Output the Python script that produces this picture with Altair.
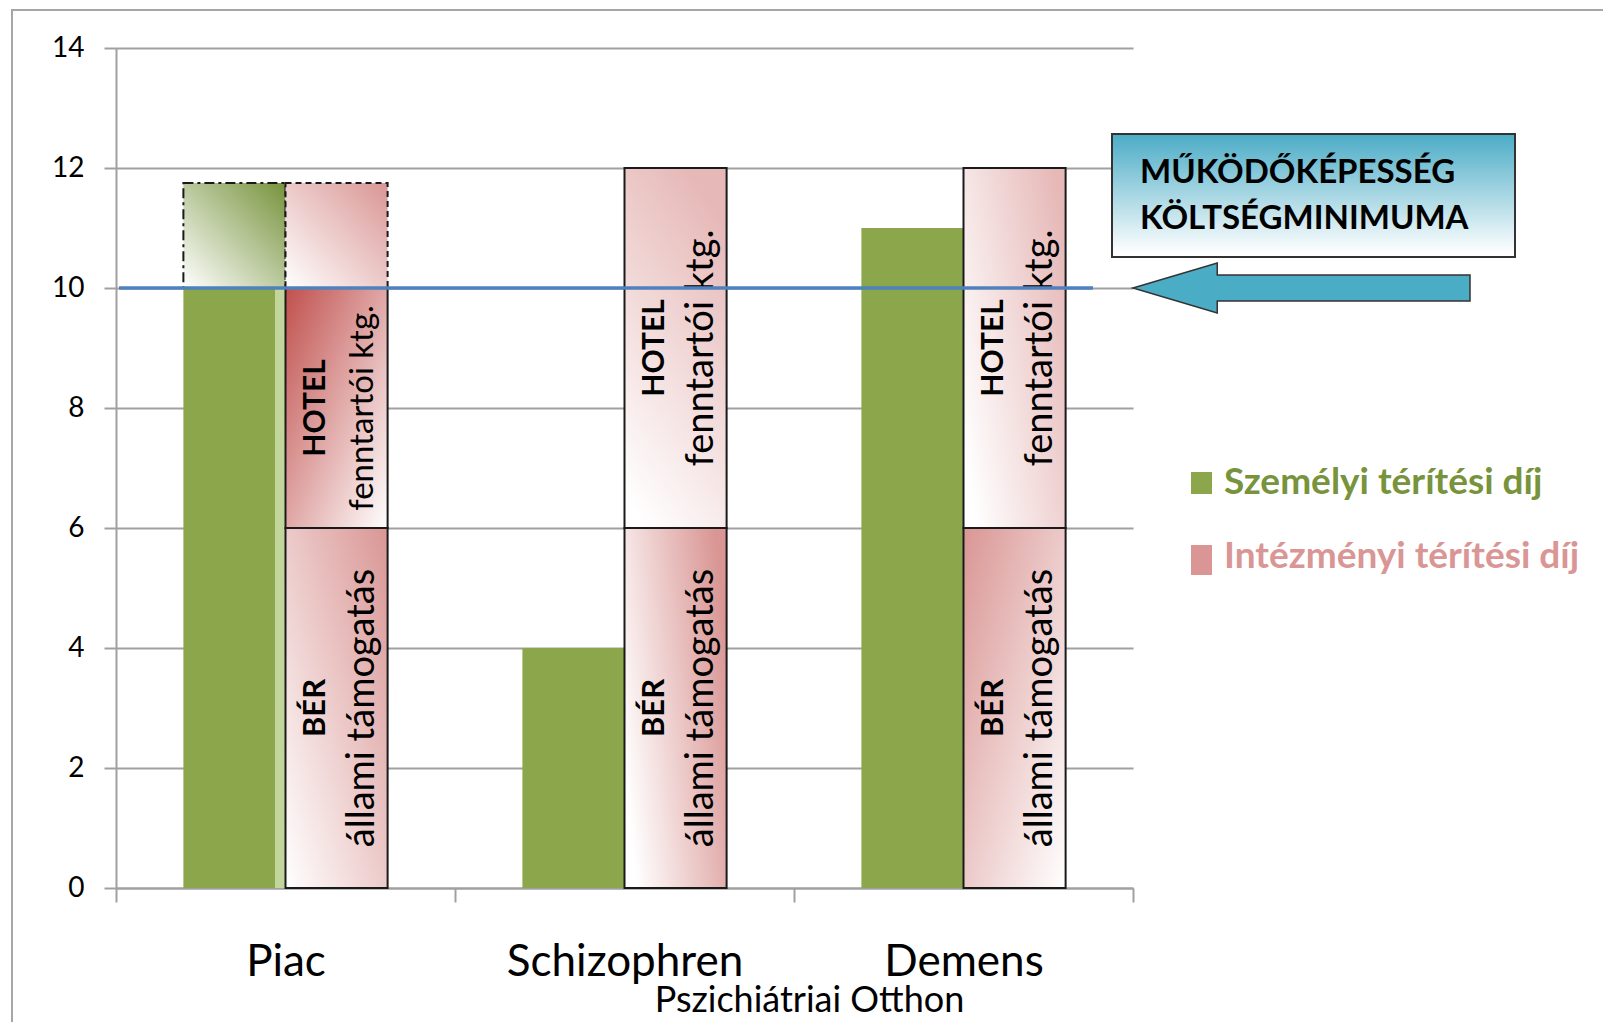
import altair as alt
import pandas as pd

# ---------------- data ----------------
categories = ["Piac", "Schizophren", "Demens"]
series = ["Személyi térítési díj", "Intézményi térítési díj"]

szemelyi = [10, 4, 11]          # green bars
ber = [6, 6, 6]                 # BÉR – állami támogatás (lower pink part)
hotel = [4, 6, 6]               # HOTEL – fenntartói ktg. (upper pink part)
piac_extension_top = 11.75      # dashed extension of the Piac bars

ber_bold, ber_text = "BÉR", "állami támogatás"
hotel_bold, hotel_text = "HOTEL", "fenntartói ktg."

threshold = 10
box_lines = ["MŰKÖDŐKÉPESSÉG", "KÖLTSÉGMINIMUMA"]
axis_title = "Pszichiátriai Otthon"
y_ticks = [0, 2, 4, 6, 8, 10, 12, 14]

# ---------------- table ----------------
rows = []
for i, c in enumerate(categories):
    rows.append(dict(id=f"g{i}", cat=c, ser=series[0], start=0, end=szemelyi[i], bold="", text=""))
    rows.append(dict(id=f"b{i}", cat=c, ser=series[1], start=0, end=ber[i], bold=ber_bold, text=ber_text))
    rows.append(dict(id=f"h{i}", cat=c, ser=series[1], start=ber[i], end=ber[i] + hotel[i],
                     bold=hotel_bold, text=hotel_text))
rows.append(dict(id="gx", cat=categories[0], ser=series[0], start=szemelyi[0], end=piac_extension_top, bold="", text=""))
rows.append(dict(id="px", cat=categories[0], ser=series[1], start=ber[0] + hotel[0], end=piac_extension_top, bold="", text=""))
df = pd.DataFrame(rows)

# ---------------- styles ----------------
GREEN = "#8BA64B"
LIGHT_GREEN = "#C2D69B"
DARK_GREEN = "#77933C"
PINK = "#D99694"
LIGHT_PINK = "#E6B9B8"
RED = "#C0504D"
FONT = "Lato"
GRID = "#A0A0A0"


def grad(c0, c1, x1, y1, x2, y2):
    return {"gradient": "linear", "x1": x1, "y1": y1, "x2": x2, "y2": y2,
            "stops": [{"offset": 0, "color": c0}, {"offset": 1, "color": c1}]}


styles = {
    "g0": dict(fill={"gradient": "linear", "x1": 0, "y1": 0, "x2": 1, "y2": 0,
                     "stops": [{"offset": 0, "color": GREEN}, {"offset": 0.895, "color": GREEN},
                               {"offset": 0.895, "color": LIGHT_GREEN}, {"offset": 1, "color": LIGHT_GREEN}]},
               strokeWidth=0),
    "g1": dict(fill=GREEN, strokeWidth=0),
    "g2": dict(fill=GREEN, strokeWidth=0),
    "h0": dict(fill=grad(RED, "#FFFFFF", 0, 0, 1, 1), stroke="#1A1A1A", strokeWidth=2),
    "b0": dict(fill=grad("#FFFFFF", PINK, 0, 1, 1, 0), stroke="#1A1A1A", strokeWidth=2),
    "h1": dict(fill=grad(LIGHT_PINK, "#FFFFFF", 0.6, 0, 0.2, 1), stroke="#1A1A1A", strokeWidth=2),
    "b1": dict(fill=grad("#FFFFFF", PINK, 0, 0.7, 1, 0.3), stroke="#1A1A1A", strokeWidth=2),
    "h2": dict(fill=grad("#FFFFFF", LIGHT_PINK, 0, 0.8, 1, 0.2), stroke="#1A1A1A", strokeWidth=2),
    "b2": dict(fill=grad(PINK, "#FFFFFF", 0, 0, 1, 1), stroke="#1A1A1A", strokeWidth=2),
    "gx": dict(fill=grad("#FFFFFF", DARK_GREEN, 0, 1, 1, 0), stroke="#1A1A1A", strokeWidth=2,
               strokeDash=[10, 4, 3, 4]),
    "px": dict(fill=grad("#FFFFFF", PINK, 0, 1, 1, 0), stroke="#1A1A1A", strokeWidth=2,
               strokeDash=[6, 4]),
}
text_sizes = {"h0": (30, 33), "b0": (31, 38), "h1": (30, 38), "b1": (31, 38), "h2": (30, 38), "b2": (31, 38)}

W, H = 1017, 840

x_enc = alt.X("cat:N", scale=alt.Scale(domain=categories, paddingInner=0, paddingOuter=0),
              axis=alt.Axis(labelAngle=0, labelFont=FONT, labelFontSize=44, labelColor="#000000",
                            labelPadding=60, labelBaseline="middle", labelLimit=0, tickBand="extent",
                            tickSize=14, tickColor=GRID, tickWidth=2, domainColor=GRID, domainWidth=2,
                            grid=False, title=axis_title, titleFont=FONT, titleFontSize=36,
                            titleFontWeight="normal", titleColor="#000000", titleX=693, titleY=112,
                            titleAlign="center", titleBaseline="middle", titleAngle=0))
xo_enc = alt.XOffset("ser:N", scale=alt.Scale(domain=series, paddingInner=0, paddingOuter=0.66))
y_scale = alt.Scale(domain=[0, 14], nice=False, zero=True)
y_axis = alt.Axis(values=y_ticks, format="d", grid=True, gridColor=GRID, gridWidth=2, tickSize=12,
                  tickColor=GRID, tickWidth=2, domainColor=GRID, domainWidth=2, labelFont=FONT,
                  labelFontSize=28, labelColor="#000000", labelPadding=20)

base = alt.Chart(df)
layers = []

# outer frame
layers.append(alt.Chart(pd.DataFrame({"a": [0]})).mark_rect(fillOpacity=0, stroke="#A6A6A6", strokeWidth=2).encode(
    x=alt.value(-104), x2=alt.value(2000), y=alt.value(-38), y2=alt.value(2000)))

# bars
for seg_id, st in styles.items():
    layers.append(base.transform_filter(alt.datum.id == seg_id).mark_bar(**st).encode(
        x=x_enc, xOffset=xo_enc,
        y=alt.Y("start:Q", scale=y_scale, axis=y_axis, title=None),
        y2="end:Q"))

# rotated texts in pink bars
for seg_id, (bold_size, reg_size) in text_sizes.items():
    seg = base.transform_filter(alt.datum.id == seg_id).transform_calculate(mid="(datum.start + datum.end) / 2")
    layers.append(seg.mark_text(angle=270, align="center", baseline="middle", font=FONT, fontWeight="bold",
                                fontSize=bold_size, dy=-21, color="#000000").encode(
        x=x_enc, xOffset=xo_enc, y=alt.Y("mid:Q", scale=y_scale, title=None), text="bold:N"))
    layers.append(seg.mark_text(angle=270, align="center", baseline="middle", font=FONT,
                                fontSize=reg_size, dy=26, color="#000000").encode(
        x=x_enc, xOffset=xo_enc, y=alt.Y("mid:Q", scale=y_scale, title=None), text="text:N"))

# threshold line
layers.append(alt.Chart(pd.DataFrame({"v": [threshold]})).mark_rule(color="#4F81BD", strokeWidth=3.5).encode(
    y=alt.Y("v:Q", scale=y_scale, title=None), x=alt.value(3), x2=alt.value(977)))

# annotation box
box_grad = {"gradient": "linear", "x1": 0, "y1": 0, "x2": 0, "y2": 1,
            "stops": [{"offset": 0, "color": "#4BACC6"}, {"offset": 0.97, "color": "#FFFFFF"},
                      {"offset": 1, "color": "#FFFFFF"}]}
layers.append(alt.Chart(pd.DataFrame({"a": [0]})).mark_rect(fill=box_grad, stroke="#333333", strokeWidth=2).encode(
    x=alt.value(996), x2=alt.value(1399), y=alt.value(86), y2=alt.value(209)))
for k, line in enumerate(box_lines):
    layers.append(alt.Chart(pd.DataFrame({"t": [line]})).mark_text(
        align="left", baseline="middle", font=FONT, fontWeight="bold", fontSize=33, color="#000000").encode(
        x=alt.value(1024), y=alt.value(125 + 46 * k), text="t:N"))

# arrow pointing at the threshold line
arrow_path = "M -1 0 L -0.5 -0.148 L -0.5 -0.077 L 1 -0.077 L 1 0.077 L -0.5 0.077 L -0.5 0.148 Z"
layers.append(alt.Chart(pd.DataFrame({"v": [threshold]})).mark_point(
    shape=arrow_path, size=337 ** 2, filled=True, fill="#4BACC6", stroke="#333333", strokeWidth=1.5,
    opacity=1).encode(y=alt.Y("v:Q", scale=y_scale, title=None), x=alt.value(1185.5)))

# legend
legend_colors = [GREEN, PINK]
legend_text_colors = [DARK_GREEN, PINK]
legend_rects = [(424, 446), (497, 527)]
legend_text_y = [435, 509]
for k, lab in enumerate(series):
    layers.append(alt.Chart(pd.DataFrame({"a": [0]})).mark_rect(fill=legend_colors[k]).encode(
        x=alt.value(1075), x2=alt.value(1096), y=alt.value(legend_rects[k][0]), y2=alt.value(legend_rects[k][1])))
    layers.append(alt.Chart(pd.DataFrame({"t": [lab]})).mark_text(
        align="left", baseline="middle", font=FONT, fontWeight="bold", fontSize=37,
        color=legend_text_colors[k]).encode(x=alt.value(1108), y=alt.value(legend_text_y[k]), text="t:N"))

chart = alt.layer(*layers).properties(
    width=W, height=H,
    padding={"left": 108, "top": 40, "right": 470, "bottom": 134},
    autosize=alt.AutoSizeParams(type="none"),
).configure_view(strokeWidth=0)

chart.save("out.html", embed_options={"renderer": "svg", "actions": False})
